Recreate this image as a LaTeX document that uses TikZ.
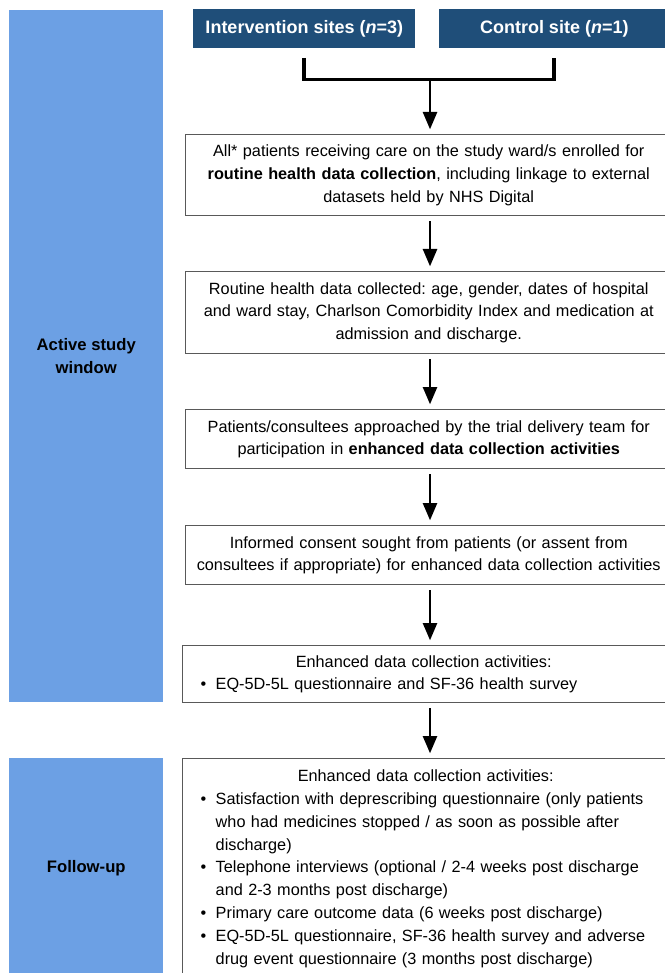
\documentclass[tikz,border=0pt]{standalone}
\usepackage{fontspec}
\setmainfont{Liberation Sans}
\usetikzlibrary{arrows.meta}
\definecolor{hdblue}{HTML}{1F4E79}
\definecolor{pnblue}{HTML}{6CA0E4}
\frenchspacing
\hyphenpenalty=10000
\newcommand{\bul}{\par\noindent\hangindent=11.25pt\hangafter=1\makebox[11.25pt][l]{\textbullet}}

\begin{document}
\begin{tikzpicture}[x=0.75pt, y=-0.75pt, font=\fontsize{12.2}{17.1}\selectfont]
\tikzstyle{hd} = [fill=hdblue, text=white, font=\fontsize{13.5}{16}\selectfont\bfseries, anchor=north west, minimum height=29.25pt, inner sep=0pt]
\tikzstyle{pn} = [fill=pnblue, font=\fontsize{12.5}{17}\selectfont\bfseries, align=center, anchor=north west, minimum width=115.5pt, inner sep=0pt]
\tikzstyle{bx} = [draw=black!65, line width=1.1pt, anchor=north west, align=center, text width=360pt, inner xsep=2.25pt, minimum width=364.5pt]
\tikzstyle{lbx} = [draw=black!65, line width=1.1pt, anchor=north west, align=left, text width=352.5pt, inner xsep=13.5pt]
\tikzstyle{a} = [-{Triangle[width=10.5pt,length=13pt]}, line width=1.9pt, shorten <=3.5pt, shorten >=3.5pt]
\tikzstyle{br} = [line width=2.6pt]

\useasboundingbox (0,0) rectangle (664,973);

\node[pn, minimum height=519pt](pa) at (9,10) {Active study\\window};
\node[pn, minimum height=165pt](pf) at (9,758) {Follow-up};

\node[hd, minimum width=166.5pt](hi) at (193,9) {Intervention sites (\textit{n}=3)};
\node[hd, minimum width=172.5pt](hc) at (439,9) {Control site (\textit{n}=1)};

\coordinate (jl) at (304,58);
\coordinate (jr) at (554,58);
\coordinate (jm) at (430,79.5);

\node[bx, minimum height=60.75pt](b1) at (185,134) {All* patients receiving care on the study ward/s enrolled for\\
  \textbf{routine health data collection}, including linkage to external\\
  datasets held by NHS Digital};
\node[bx, minimum height=61.5pt](b2) at (185,271) {Routine health data collected: age, gender, dates of hospital\\
  and ward stay, Charlson Comorbidity Index and medication at\\
  admission and discharge.};
\node[bx, minimum height=44.25pt](b3) at (185,409) {Patients/consultees approached by the trial delivery team for\\
  participation in \textbf{enhanced data collection activities}};
\node[bx, minimum height=44.25pt](b4) at (185,525) {Informed consent sought from patients (or assent from\\
  consultees if appropriate) for enhanced data collection activities};
\node[lbx, minimum height=42.75pt](b5) at (182,645) {{\centering Enhanced data collection activities:\hspace*{18pt}\par}
  \bul EQ-5D-5L questionnaire and SF-36 health survey\par};
\node[lbx, minimum height=165pt](b6) at (182,758) {{\centering Enhanced data collection activities:\hspace*{15pt}\par}
  \bul Satisfaction with deprescribing questionnaire (only patients\newline
  who had medicines stopped / as soon as possible after\newline discharge)
  \bul Telephone interviews (optional / 2-4 weeks post discharge\newline
  and 2-3 months post discharge)
  \bul Primary care outcome data (6 weeks post discharge)
  \bul EQ-5D-5L questionnaire, SF-36 health survey and adverse\newline
  drug event questionnaire (3 months post discharge)\par};

\draw[br] (jl) -- (jl |- jm) -- (jr |- jm) -- (jr);
\draw[a, shorten <=0pt] (jm) -- (b1.north -| jm);
\draw[a] (b1.south -| jm) -- (b2.north -| jm);
\draw[a] (b2.south -| jm) -- (b3.north -| jm);
\draw[a] (b3.south -| jm) -- (b4.north -| jm);
\draw[a] (b4.south -| jm) -- (b5.north -| jm);
\draw[a] (b5.south -| jm) -- (b6.north -| jm);
\end{tikzpicture}
\end{document}
